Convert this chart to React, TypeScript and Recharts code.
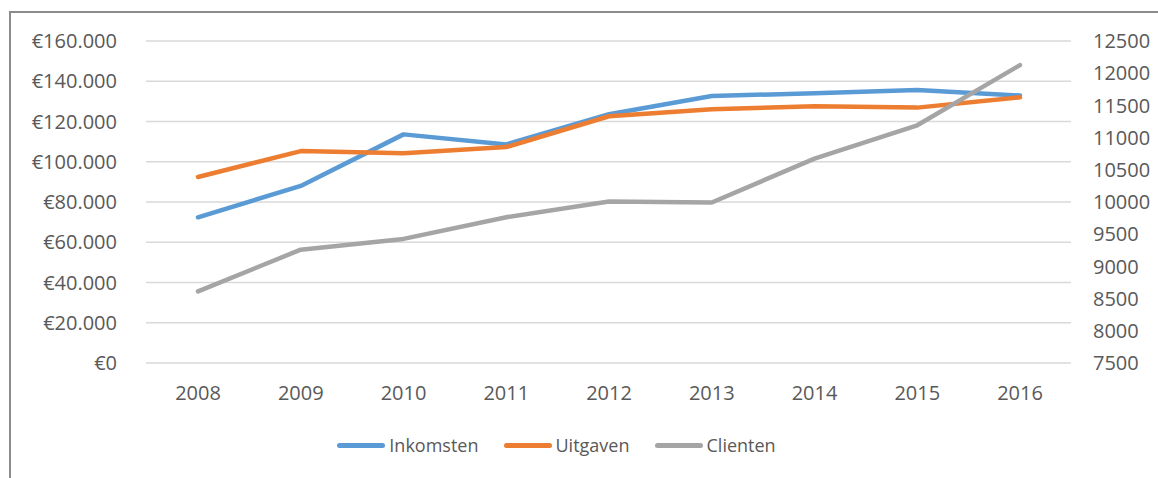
import React from 'react';
import { LineChart, Line, XAxis, YAxis, CartesianGrid, Legend } from 'recharts';

const years = ['2008', '2009', '2010', '2011', '2012', '2013', '2014', '2015', '2016'];
const inkomsten = [72400, 88000, 113600, 108600, 123600, 132700, 134000, 135600, 132900];
const uitgaven = [92400, 105300, 104200, 107300, 122600, 126100, 127600, 126900, 132000];
const clienten = [8611, 9260, 9427, 9764, 10008, 9992, 10673, 11191, 12126];

const leftTicks = [0, 20000, 40000, 60000, 80000, 100000, 120000, 140000, 160000];
const rightTicks = [7500, 8000, 8500, 9000, 9500, 10000, 10500, 11000, 11500, 12000, 12500];

const series = [
  { key: 'Inkomsten', color: '#5b9bd5', axis: 'left' },
  { key: 'Uitgaven', color: '#ed7d31', axis: 'left' },
  { key: 'Clienten', color: '#a5a5a5', axis: 'right' },
];

const data = years.map((year, i) => ({
  year,
  Inkomsten: inkomsten[i],
  Uitgaven: uitgaven[i],
  Clienten: clienten[i],
}));

const euro = (v: number) => '€' + String(v).replace(/\B(?=(\d{3})+(?!\d))/g, '.');

const textColor = '#595959';
const font = '"Open Sans", sans-serif';

const LegendContent = () => (
  <div style={{ display: 'flex', justifyContent: 'center', alignItems: 'center', paddingRight: 56, fontFamily: font, fontSize: 18, color: textColor }}>
    {series.map((s) => (
      <div key={s.key} style={{ display: 'flex', alignItems: 'center', margin: '0 12.5px' }}>
        <span style={{ display: 'inline-block', width: 48, height: 5, borderRadius: 3, background: s.color, marginRight: 4 }} />
        <span>{s.key}</span>
      </div>
    ))}
  </div>
);

export default function App() {
  return (
    <div style={{ position: 'fixed', left: 0, top: 0, width: 1158, height: 478, overflow: 'hidden', background: '#fff' }}>
      <div style={{ position: 'absolute', left: 9, top: 11, width: 1160, height: 480, borderLeft: '2px solid #8c8c8c', borderTop: '2px solid #8c8c8c' }}>
        <LineChart width={1147} height={465} data={data} margin={{ top: 28, right: 0, bottom: 9, left: 0 }}>
          <CartesianGrid vertical={false} stroke="#d9d9d9" strokeWidth={1.5} yAxisId="left" />
          <XAxis
            dataKey="year"
            axisLine={false}
            tickLine={false}
            tickSize={0}
            tickMargin={23}
            height={70}
            padding={{ left: 52, right: 51 }}
            tick={{ fill: textColor, fontSize: 20, fontFamily: font }}
          />
          <YAxis
            yAxisId="left"
            domain={[0, 160000]}
            ticks={leftTicks}
            tickFormatter={euro}
            axisLine={false}
            tickLine={false}
            tickSize={0}
            tickMargin={29}
            width={135}
            interval={0}
            tick={{ fill: textColor, fontSize: 20, fontFamily: font }}
          />
          <YAxis
            yAxisId="right"
            orientation="right"
            domain={[7500, 12500]}
            ticks={rightTicks}
            axisLine={false}
            tickLine={false}
            tickSize={0}
            tickMargin={22}
            width={87}
            interval={0}
            tick={{ fill: textColor, fontSize: 20, fontFamily: font, textAnchor: 'start' }}
          />
          <Legend verticalAlign="bottom" height={36} content={<LegendContent />} />
          {series.map((s) => (
            <Line
              key={s.key}
              type="linear"
              dataKey={s.key}
              yAxisId={s.axis}
              stroke={s.color}
              strokeWidth={4.5}
              strokeLinecap="round"
              strokeLinejoin="round"
              dot={false}
              activeDot={false}
              isAnimationActive={false}
            />
          ))}
        </LineChart>
      </div>
    </div>
  );
}
